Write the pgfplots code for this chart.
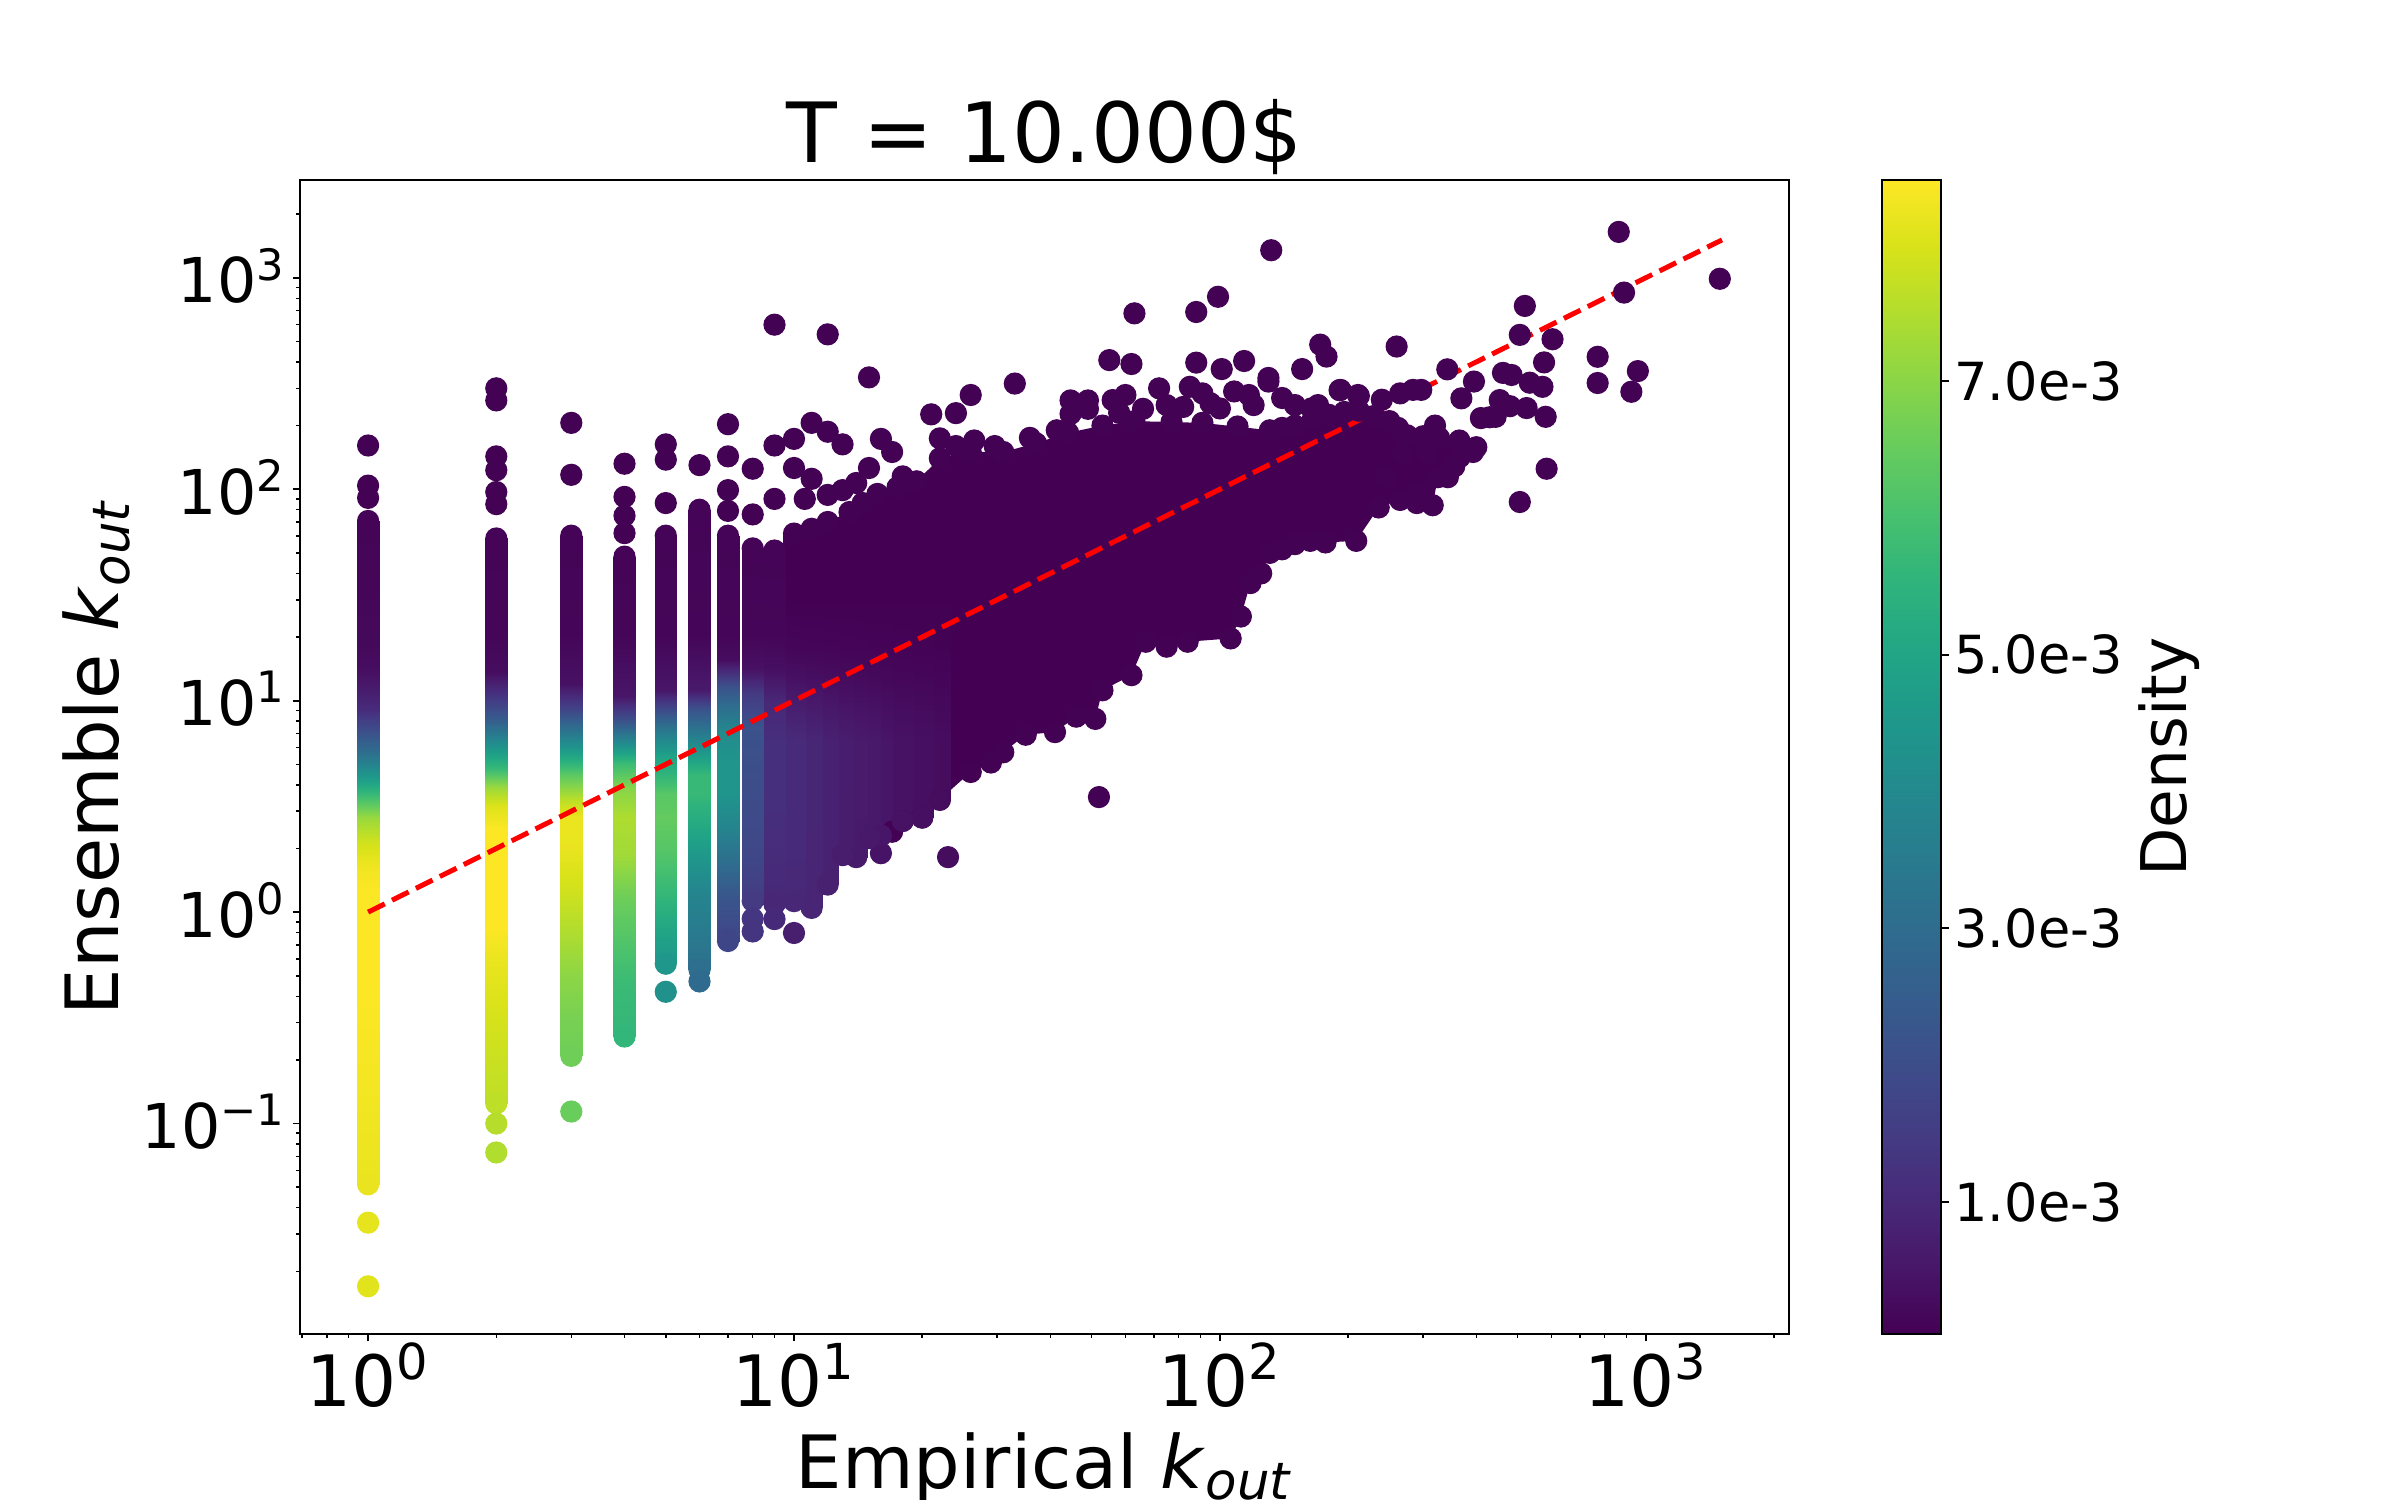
\documentclass[border=0pt]{standalone}
\usepackage{fontspec}
\setmainfont{DejaVu Sans}
\usepackage{pgfplots}
\pgfplotsset{compat=1.18}
\definecolor{vpurple}{HTML}{440154}
\pgfplotsset{
  dot/.style={scatter, only marks, mark=*, mark size=3.5pt, point meta=explicit,
    scatter/use mapped color={draw=mapped color, fill=mapped color}, mark options={line width=0.4pt}},
  band/.style={surf, shader=interp, mesh/cols=2, point meta=explicit},
}
\begin{document}
\begin{tikzpicture}
\useasboundingbox (0,0) rectangle (800pt,500pt);
\begin{axis}[
  at={(100pt,55.3pt)}, anchor=south west,
  scale only axis, width=496.3pt, height=384.7pt,
  xmode=log, ymode=log, log basis x=10, log basis y=10,
  xmin=0.692, xmax=2168, ymin=0.0101, ymax=2900,
  axis line style={line width=0.6pt, black},
  tick align=outside, tick pos=left,
  major tick length=2.4pt, minor tick length=1.3pt,
  every major tick/.style={line width=0.6pt, black},
  every minor tick/.style={line width=0.5pt, black},
  xtick={1,10,100,1000},
  xticklabels={10\textsuperscript{0},10\textsuperscript{1},10\textsuperscript{2},10\textsuperscript{3}},
  minor xtick={0.7,0.8,0.9,2,3,4,5,6,7,8,9,20,30,40,50,60,70,80,90,200,300,400,500,600,700,800,900,2000},
  ytick={0.1,1,10,100,1000},
  yticklabels={10\textsuperscript{\symbol{"2212}1},10\textsuperscript{0},10\textsuperscript{1},10\textsuperscript{2},10\textsuperscript{3}},
  minor ytick={0.02,0.03,0.04,0.05,0.06,0.07,0.08,0.09,0.2,0.3,0.4,0.5,0.6,0.7,0.8,0.9,2,3,4,5,6,7,8,9,20,30,40,50,60,70,80,90,200,300,400,500,600,700,800,900,2000},
  xticklabel style={font=\fontsize{23.6}{28}\selectfont, anchor=base, inner sep=0pt, yshift=-21.9pt},
  yticklabel style={font=\fontsize{20.6}{24}\selectfont, anchor=base east, inner sep=0pt, xshift=-2.2pt, yshift=-8.3pt},
  every axis title shift=0pt,
  title={T = 10.000\$},
  title style={font=\fontsize{27.7}{33}\selectfont, at={(axis description cs:0.5,1.0148)}, anchor=base},
  xlabel={Empirical \textit{k}\textsubscript{\textit{out}}},
  xlabel style={font=\fontsize{24.5}{29}\selectfont, at={(axis description cs:0.5,-0.1334)}, anchor=base},
  ylabel={Ensemble \textit{k}\textsubscript{\textit{out}}},
  ylabel style={font=\fontsize{24.5}{29}\selectfont, at={(axis description cs:-0.1221,0.5)}, anchor=base},
  colormap/viridis,
  point meta min=0.034, point meta max=8.47,
]
% dense cloud interior
\addplot[fill=vpurple, draw=none] coordinates {
(10,1.2) (11,1.1) (12,1.4) (13,1.9) (14,1.9) (15,2.3) (17,2.4) (18,2.7) (20,2.8) (22,3.4) (26,4.6) (29,5.1) (31,5.7) (35,6.9) (41,7.1) (46,8.4) (51,8.2) (53,11.2) (62,13.2) (67,19) (75,18) (84,19) (106,19.7) (112,25) (118,36) (125,40) (131,50) (150,55) (177,56) (209,57) (236,82) (265,89) (316,84) (325,114) (343,114) (366,142) (400,158) (327,175) (275,180) (250,210) (212,235) (180,225) (150,200) (131,190) (91,206) (63,210) (53,200) (44,185) (37,165) (31,150) (26,150) (22,140) (19.4,109) (15.7,95) (13.5,78) (11,65) (10,62)
};
% background points (low density)
\addplot[dot] table[meta=c, row sep=\\] {
x y c\\
17 2.4 0.04\\ 18 2.7 0.04\\ 20 2.8 0.04\\ 22 3.4 0.04\\ 26 4.6 0.04\\ 29 5.1 0.04\\ 31 5.7 0.04\\ 35 6.9 0.04\\ 41 7.1 0.04\\ 46 8.4 0.04\\
51 8.2 0.04\\ 53 11.2 0.04\\ 62 13.2 0.04\\ 67 19 0.04\\ 75 18 0.04\\ 84 19 0.04\\ 106 19.7 0.04\\ 112 25 0.04\\ 118 36 0.04\\ 125 40 0.04\\
131 50 0.04\\ 140 52 0.04\\ 150 55 0.04\\ 163 57 0.04\\ 177 56 0.04\\ 209 57 0.04\\ 236 82 0.04\\ 265 89 0.04\\ 290 86 0.04\\ 316 84 0.04\\
325 114 0.04\\ 343 114 0.04\\ 355 128 0.04\\ 366 142 0.04\\ 400 158 0.04\\ 365 170 0.04\\ 327 175 0.04\\ 300 178 0.04\\ 275 180 0.04\\ 262 195 0.04\\
250 210 0.04\\ 230 222 0.04\\ 212 235 0.04\\ 196 232 0.04\\ 180 225 0.04\\ 165 212 0.04\\ 150 200 0.04\\ 140 195 0.04\\ 131 190 0.04\\ 110 198 0.04\\
91 206 0.04\\ 77 208 0.04\\ 63 210 0.04\\ 53 200 0.04\\ 44 185 0.04\\ 37 165 0.04\\ 31 150 0.04\\ 26 150 0.04\\ 22 140 0.04\\ 19.4 109 0.04\\
17.5 102 0.04\\ 15.7 95 0.04\\ 14.5 86 0.04\\ 13.5 78 0.04\\ 12 70 0.04\\ 11 65 0.04\\
1 91 0.04\\ 1 104 0.04\\ 1 161 0.04\\ 2 85 0.04\\ 2 97 0.04\\ 2 123 0.04\\ 2 143 0.04\\ 2 263 0.04\\ 2 300 0.04\\ 3 117 0.04\\
3 206 0.04\\ 4 62 0.04\\ 4 75 0.04\\ 4 92 0.04\\ 4 132 0.04\\ 5 86 0.04\\ 5 138 0.04\\ 5 163 0.04\\ 6 130 0.04\\ 7 79 0.04\\
7 99 0.04\\ 7 143 0.04\\ 7 203 0.04\\ 8 76 0.04\\ 8 125 0.04\\ 9 90 0.04\\ 9 161 0.04\\ 9 600 0.04\\
10 126 0.04\\ 10 173 0.04\\ 10.6 90 0.04\\ 11 112 0.04\\ 11 206 0.04\\ 12 94 0.04\\ 12 187 0.04\\ 12 540 0.04\\ 13 99 0.04\\ 13 163 0.04\\
14 107 0.04\\ 15 126 0.04\\ 15 338 0.04\\ 16 173 0.04\\ 17 150 0.04\\ 18 115 0.04\\ 21 226 0.04\\ 22 174 0.04\\ 24 160 0.04\\ 24 229 0.04\\
26 279 0.04\\ 26.5 170 0.04\\ 29.6 160 0.04\\ 33 316 0.04\\ 35.8 175 0.04\\ 41.4 190 0.04\\ 44.6 227 0.04\\ 44.6 263 0.04\\ 49 263 0.04\\ 55 408 0.04\\
62 391 0.04\\ 63 679 0.04\\ 88 689 0.04\\ 99 813 0.04\\ 132 1350 0.04\\ 88 397 0.04\\ 101 370 0.04\\ 114 404 0.04\\ 130 336 0.04\\ 156 370 0.04\\
172 483 0.04\\ 178 424 0.04\\ 45 259 0.04\\ 49 240 0.04\\ 56 264 0.04\\ 60 279 0.04\\ 72 300 0.04\\ 85 305 0.04\\ 91 284 0.04\\ 100 241 0.04\\
117 279 0.04\\ 130 323 0.04\\ 164 241 0.04\\ 191 294 0.04\\ 211 279 0.04\\ 58 230 0.04\\ 66 240 0.04\\ 75 250 0.04\\ 82 245 0.04\\ 95 255 0.04\\
108 290 0.04\\ 120 250 0.04\\ 140 270 0.04\\ 150 250 0.04\\ 170 250 0.04\\
864 1648 0.04\\ 1492 989 0.04\\ 889 851 0.04\\ 520 736 0.04\\ 506 537 0.04\\ 604 512 0.04\\ 260 473 0.04\\ 771 423 0.04\\ 771 318 0.04\\ 958 362 0.04\\
925 289 0.04\\ 577 398 0.04\\ 342 369 0.04\\ 395 323 0.04\\ 462 355 0.04\\ 484 347 0.04\\ 534 319 0.04\\ 572 305 0.04\\ 525 242 0.04\\ 582 220 0.04\\
410 217 0.04\\ 444 220 0.04\\ 454 264 0.04\\ 369 269 0.04\\ 265 284 0.04\\ 284 295 0.04\\ 297 295 0.04\\ 585 125 0.04\\ 506 87 0.04\\ 290 96 0.04\\
246 114 0.04\\ 307 148 0.04\\ 269 148 0.04\\ 430 219 0.04\\ 480 247 0.04\\ 393 150 0.04\\ 212 276 0.04\\ 192 295 0.04\\ 240 265 0.04\\ 320 200 0.04\\
52 3.5 0.04\\ 23 1.82 0.30\\ 16 1.9 0.45\\
};
% gradient columns inside the cloud (drawn right to left)
\addplot[band] table[meta=c, row sep=\\] {
x y c\\
20.72 3.4 0.30\\ 23.36 3.4 0.30\\ 20.72 6.31 0.30\\ 23.36 6.31 0.30\\ 20.72 8.91 0.22\\ 23.36 8.91 0.22\\
20.72 12.6 0.13\\ 23.36 12.6 0.13\\ 20.72 17.8 0.06\\ 23.36 17.8 0.06\\ 20.72 28.2 0.04\\ 23.36 28.2 0.04\\
};
\addplot[band] table[meta=c, row sep=\\] {
x y c\\
18.836 2.8 0.36\\ 21.236 2.8 0.36\\ 18.836 6.31 0.36\\ 21.236 6.31 0.36\\ 18.836 8.91 0.27\\ 21.236 8.91 0.27\\
18.836 12.6 0.16\\ 21.236 12.6 0.16\\ 18.836 17.8 0.07\\ 21.236 17.8 0.07\\ 18.836 28.2 0.04\\ 21.236 28.2 0.04\\
};
\addplot[band] table[meta=c, row sep=\\] {
x y c\\
16.952 2.7 0.42\\ 19.112 2.7 0.42\\ 16.952 6.31 0.42\\ 19.112 6.31 0.42\\ 16.952 8.91 0.31\\ 19.112 8.91 0.31\\
16.952 12.6 0.18\\ 19.112 12.6 0.18\\ 16.952 17.8 0.08\\ 19.112 17.8 0.08\\ 16.952 28.2 0.04\\ 19.112 28.2 0.04\\
};
\addplot[band] table[meta=c, row sep=\\] {
x y c\\
15.069 2.3 0.50\\ 16.989 2.3 0.50\\ 15.069 6.31 0.50\\ 16.989 6.31 0.50\\ 15.069 8.91 0.36\\ 16.989 8.91 0.36\\
15.069 12.6 0.20\\ 16.989 12.6 0.20\\ 15.069 17.8 0.09\\ 16.989 17.8 0.09\\ 15.069 28.2 0.04\\ 16.989 28.2 0.04\\
};
\addplot[band] table[meta=c, row sep=\\] {
x y c\\
14.127 2.24 0.57\\ 15.927 2.24 0.57\\ 14.127 6.31 0.58\\ 15.927 6.31 0.58\\ 14.127 8.91 0.42\\ 15.927 8.91 0.42\\
14.127 12.6 0.23\\ 15.927 12.6 0.23\\ 14.127 17.8 0.09\\ 15.927 17.8 0.09\\ 14.127 28.2 0.04\\ 15.927 28.2 0.04\\
};
\addplot[band] table[meta=c, row sep=\\] {
x y c\\
13.185 1.82 0.62\\ 14.865 1.82 0.62\\ 13.185 6.31 0.63\\ 14.865 6.31 0.63\\ 13.185 8.91 0.45\\ 14.865 8.91 0.45\\
13.185 12.6 0.25\\ 14.865 12.6 0.25\\ 13.185 17.8 0.10\\ 14.865 17.8 0.10\\ 13.185 28.2 0.04\\ 14.865 28.2 0.04\\
};
\addplot[band] table[meta=c, row sep=\\] {
x y c\\
12.243 1.86 0.68\\ 13.803 1.86 0.68\\ 12.243 6.31 0.70\\ 13.803 6.31 0.70\\ 12.243 8.91 0.50\\ 13.803 8.91 0.50\\
12.243 12.6 0.27\\ 13.803 12.6 0.27\\ 12.243 17.8 0.11\\ 13.803 17.8 0.11\\ 12.243 28.2 0.04\\ 13.803 28.2 0.04\\
};
\addplot[band] table[meta=c, row sep=\\] {
x y c\\
11.302 1.35 0.78\\ 12.742 1.35 0.78\\ 11.302 6.31 0.80\\ 12.742 6.31 0.80\\ 11.302 8.91 0.57\\ 12.742 8.91 0.57\\
11.302 12.6 0.31\\ 12.742 12.6 0.31\\ 11.302 17.8 0.12\\ 12.742 17.8 0.12\\ 11.302 28.2 0.04\\ 12.742 28.2 0.04\\
};
\addplot[band] table[meta=c, row sep=\\] {
x y c\\
10.36 1.047 0.88\\ 11.68 1.047 0.88\\ 10.36 6.31 0.93\\ 11.68 6.31 0.93\\ 10.36 8.91 0.66\\ 11.68 8.91 0.66\\
10.36 12.6 0.35\\ 11.68 12.6 0.35\\ 10.36 17.8 0.13\\ 11.68 17.8 0.13\\ 10.36 28.2 0.04\\ 11.68 28.2 0.04\\
};
\addplot[band] table[meta=c, row sep=\\] {
x y c\\
9.418 1.127 0.95\\ 10.618 1.127 0.95\\ 9.418 2.51 1.05\\ 10.618 2.51 1.05\\ 9.418 6.31 1.05\\ 10.618 6.31 1.05\\
9.418 8.91 0.75\\ 10.618 8.91 0.75\\ 9.418 12.6 0.39\\ 10.618 12.6 0.39\\ 9.418 17.8 0.14\\ 10.618 17.8 0.14\\
9.418 28.2 0.04\\ 10.618 28.2 0.04\\ 9.418 61.7 0.04\\ 10.618 61.7 0.04\\
};
\addplot[dot] table[meta=c, row sep=\\] {
x y c\\
22 3.4 0.30\\ 20 2.8 0.36\\ 18 2.7 0.42\\ 16 2.3 0.50\\ 15 2.24 0.57\\ 14 1.82 0.62\\ 13 1.86 0.68\\ 12 1.35 0.78\\ 11 1.047 0.88\\
10 1.127 0.95\\ 10 0.797 0.72\\ 10 61.7 0.04\\
};
% integer columns x = 9 ... 1
\addplot[band] table[meta=c, row sep=\\] {
x y c\\
8.4762 1.09 0.95\\ 9.5562 1.09 0.95\\ 8.4762 1.58 1.05\\ 9.5562 1.58 1.05\\ 8.4762 3.16 1.15\\ 9.5562 3.16 1.15\\
8.4762 6.31 1.15\\ 9.5562 6.31 1.15\\ 8.4762 10.0 0.95\\ 9.5562 10.0 0.95\\ 8.4762 14.1 0.35\\ 9.5562 14.1 0.35\\
8.4762 20.0 0.15\\ 9.5562 20.0 0.15\\ 8.4762 51.3 0.10\\ 9.5562 51.3 0.10\\
};
\addplot[band] table[meta=c, row sep=\\] {
x y c\\
7.5344 1.13 1.47\\ 8.4944 1.13 1.47\\ 7.5344 1.75 1.80\\ 8.4944 1.75 1.80\\ 7.5344 2.51 1.89\\ 8.4944 2.51 1.89\\
7.5344 5.20 2.05\\ 8.4944 5.20 2.05\\ 7.5344 7.48 2.14\\ 8.4944 7.48 2.14\\ 7.5344 10.7 1.47\\ 8.4944 10.7 1.47\\
7.5344 14.1 0.40\\ 8.4944 14.1 0.40\\ 7.5344 20.0 0.15\\ 8.4944 20.0 0.15\\ 7.5344 52.5 0.10\\ 8.4944 52.5 0.10\\
};
\addplot[band] table[meta=c, row sep=\\] {
x y c\\
6.5926 0.73 1.80\\ 7.4326 0.73 1.80\\ 6.5926 0.843 1.89\\ 7.4326 0.843 1.89\\ 6.5926 1.22 2.31\\ 7.4326 1.22 2.31\\
6.5926 1.75 3.07\\ 7.4326 1.75 3.07\\ 6.5926 2.51 3.83\\ 7.4326 2.51 3.83\\ 6.5926 3.62 4.42\\ 7.4326 3.62 4.42\\
6.5926 5.20 4.42\\ 7.4326 5.20 4.42\\ 6.5926 6.97 4.08\\ 7.4326 6.97 4.08\\ 6.5926 9.29 3.07\\ 7.4326 9.29 3.07\\
6.5926 11.56 2.14\\ 7.4326 11.56 2.14\\ 6.5926 15.5 0.30\\ 7.4326 15.5 0.30\\ 6.5926 20.0 0.15\\ 7.4326 20.0 0.15\\
6.5926 60.3 0.10\\ 7.4326 60.3 0.10\\
};
\addplot[band] table[meta=c, row sep=\\] {
x y c\\
5.6508 0.533 3.07\\ 6.3708 0.533 3.07\\ 5.6508 0.724 3.41\\ 6.3708 0.724 3.41\\ 5.6508 1.22 3.83\\ 6.3708 1.22 3.83\\
5.6508 1.75 4.42\\ 6.3708 1.75 4.42\\ 5.6508 2.51 5.10\\ 6.3708 2.51 5.10\\ 5.6508 3.63 5.69\\ 6.3708 3.63 5.69\\
5.6508 4.47 5.69\\ 6.3708 4.47 5.69\\ 5.6508 6.03 4.25\\ 6.3708 6.03 4.25\\ 5.6508 7.59 3.07\\ 6.3708 7.59 3.07\\
5.6508 9.18 2.14\\ 6.3708 9.18 2.14\\ 5.6508 11.2 0.60\\ 6.3708 11.2 0.60\\ 5.6508 20.0 0.15\\ 6.3708 20.0 0.15\\
5.6508 80.0 0.10\\ 6.3708 80.0 0.10\\
};
\addplot[band] table[meta=c, row sep=\\] {
x y c\\
4.709 0.570 4.50\\ 5.309 0.570 4.50\\ 4.709 0.741 4.84\\ 5.309 0.741 4.84\\ 4.709 1.18 5.60\\ 5.309 1.18 5.60\\
4.709 1.87 6.19\\ 5.309 1.87 6.19\\ 4.709 2.79 6.45\\ 5.309 2.79 6.45\\ 4.709 3.63 6.28\\ 5.309 3.63 6.28\\
4.709 5.41 4.93\\ 5.309 5.41 4.93\\ 4.709 7.05 3.58\\ 5.309 7.05 3.58\\ 4.709 9.18 1.89\\ 5.309 9.18 1.89\\
4.709 11.2 0.50\\ 5.309 11.2 0.50\\ 4.709 20.0 0.15\\ 5.309 20.0 0.15\\ 4.709 60.3 0.10\\ 5.309 60.3 0.10\\
};
\addplot[band] table[meta=c, row sep=\\] {
x y c\\
3.7672 0.258 5.60\\ 4.2472 0.258 5.60\\ 3.7672 0.468 5.77\\ 4.2472 0.468 5.77\\ 3.7672 0.741 6.19\\ 4.2472 0.741 6.19\\
3.7672 1.18 6.61\\ 4.2472 1.18 6.61\\ 3.7672 1.87 7.29\\ 4.2472 1.87 7.29\\ 3.7672 2.79 7.46\\ 4.2472 2.79 7.46\\
3.7672 3.88 6.95\\ 4.2472 3.88 6.95\\ 3.7672 5.06 5.77\\ 4.2472 5.06 5.77\\ 3.7672 6.17 4.25\\ 4.2472 6.17 4.25\\
3.7672 8.04 2.14\\ 4.2472 8.04 2.14\\ 3.7672 10.5 0.50\\ 4.2472 10.5 0.50\\ 3.7672 20.0 0.15\\ 4.2472 20.0 0.15\\
3.7672 48.0 0.10\\ 4.2472 48.0 0.10\\
};
\addplot[band] table[meta=c, row sep=\\] {
x y c\\
2.8254 0.209 6.61\\ 3.1854 0.209 6.61\\ 2.8254 0.316 6.75\\ 3.1854 0.316 6.75\\ 2.8254 0.501 7.03\\ 3.1854 0.501 7.03\\
2.8254 0.794 7.46\\ 3.1854 0.794 7.46\\ 2.8254 1.26 7.88\\ 3.1854 1.26 7.88\\ 2.8254 2.0 8.20\\ 3.1854 2.0 8.20\\
2.8254 2.82 8.22\\ 3.1854 2.82 8.22\\ 2.8254 3.39 7.63\\ 3.1854 3.39 7.63\\ 2.8254 4.44 6.36\\ 3.1854 4.44 6.36\\
2.8254 5.41 5.10\\ 3.1854 5.41 5.10\\ 2.8254 7.05 3.41\\ 3.1854 7.05 3.41\\ 2.8254 9.18 1.72\\ 3.1854 9.18 1.72\\
2.8254 12.0 0.40\\ 3.1854 12.0 0.40\\ 2.8254 20.0 0.15\\ 3.1854 20.0 0.15\\ 2.8254 60.3 0.10\\ 3.1854 60.3 0.10\\
};
\addplot[band] table[meta=c, row sep=\\] {
x y c\\
1.8836 0.1245 7.65\\ 2.1236 0.1245 7.65\\ 1.8836 0.316 7.95\\ 2.1236 0.316 7.95\\ 1.8836 0.608 8.22\\ 2.1236 0.608 8.22\\
1.8836 0.851 8.47\\ 2.1236 0.851 8.47\\ 1.8836 2.45 8.47\\ 2.1236 2.45 8.47\\ 1.8836 3.18 8.05\\ 2.1236 3.18 8.05\\
1.8836 3.89 7.20\\ 2.1236 3.89 7.20\\ 1.8836 4.73 5.77\\ 2.1236 4.73 5.77\\ 1.8836 6.17 4.25\\ 2.1236 6.17 4.25\\
1.8836 8.04 2.56\\ 2.1236 8.04 2.56\\ 1.8836 10.5 1.30\\ 2.1236 10.5 1.30\\ 1.8836 13.6 0.30\\ 2.1236 13.6 0.30\\
1.8836 20.0 0.15\\ 2.1236 20.0 0.15\\ 1.8836 58.5 0.10\\ 2.1236 58.5 0.10\\
};
\addplot[band] table[meta=c, row sep=\\] {
x y c\\
0.9418 0.0516 8.20\\ 1.0618 0.0516 8.20\\ 0.9418 0.158 8.35\\ 1.0618 0.158 8.35\\ 0.9418 0.50 8.47\\ 1.0618 0.50 8.47\\
0.9418 1.26 8.45\\ 1.0618 1.26 8.45\\ 0.9418 1.64 8.30\\ 1.0618 1.64 8.30\\ 0.9418 2.14 7.88\\ 1.0618 2.14 7.88\\
0.9418 2.79 7.20\\ 1.0618 2.79 7.20\\ 0.9418 3.40 6.11\\ 1.0618 3.40 6.11\\ 0.9418 4.01 5.10\\ 1.0618 4.01 5.10\\
0.9418 4.73 4.08\\ 1.0618 4.73 4.08\\ 0.9418 5.77 2.99\\ 1.0618 5.77 2.99\\ 0.9418 7.05 2.14\\ 1.0618 7.05 2.14\\
0.9418 9.18 1.05\\ 1.0618 9.18 1.05\\ 0.9418 12.0 0.55\\ 1.0618 12.0 0.55\\ 0.9418 14.6 0.30\\ 1.0618 14.6 0.30\\
0.9418 17.8 0.22\\ 1.0618 17.8 0.22\\ 0.9418 31.6 0.15\\ 1.0618 31.6 0.15\\ 0.9418 70.8 0.10\\ 1.0618 70.8 0.10\\
};
% column end caps and isolated points
\addplot[dot] table[meta=c, row sep=\\] {
x y c\\
9 1.09 0.95\\ 9 51.3 0.10\\ 9 0.927 1.00\\
8 1.13 1.47\\ 8 52.5 0.10\\ 8 0.93 1.35\\ 8 0.81 1.30\\
7 0.73 1.80\\ 7 60.3 0.10\\
6 0.533 3.07\\ 6 80 0.10\\ 6 0.47 2.95\\
5 0.57 4.50\\ 5 60.3 0.10\\ 5 0.42 4.30\\
4 0.258 5.60\\ 4 48 0.10\\
3 0.209 6.61\\ 3 60.3 0.10\\ 3 0.114 6.55\\
2 0.1245 7.65\\ 2 58.5 0.10\\ 2 0.10 7.55\\ 2 0.073 7.50\\
1 0.0516 8.20\\ 1 70.8 0.10\\ 1 0.034 8.15\\ 1 0.017 8.10\\
};
% y = x reference line
\addplot[color=red, line width=1.67pt, dash pattern=on 6.2pt off 2.7pt] coordinates {(1,1) (1510,1510)};
\end{axis}
% colour bar (density scale)
\begin{axis}[
  at={(627.3pt,55.3pt)}, anchor=south west,
  scale only axis, width=19.7pt, height=384.7pt,
  xmin=0, xmax=1, ymin=0.034, ymax=8.47,
  xtick=\empty,
  ytick={1,3,5,7}, yticklabels={1.0e-3,3.0e-3,5.0e-3,7.0e-3},
  ytick pos=right, yticklabel pos=right, tick align=outside, major tick length=2.5pt,
  every major tick/.style={line width=0.6pt, black},
  axis line style={line width=0.6pt, black},
  axis on top,
  yticklabel style={font=\fontsize{17.5}{21}\selectfont, anchor=west, inner sep=0pt, xshift=1.8pt},
  ylabel={Density},
  every axis y label/.style={at={(axis description cs:5.15,0.5)}, rotate=90, anchor=base, font=\fontsize{21}{25}\selectfont},
  colormap/viridis, point meta min=0.034, point meta max=8.47,
]
\addplot[band] table[meta=c, row sep=\\] {
x y c\\
0 0.034 0.034\\ 1 0.034 0.034\\ 0 0.5 0.5\\ 1 0.5 0.5\\ 0 1 1\\ 1 1 1\\ 0 1.5 1.5\\ 1 1.5 1.5\\
0 2 2\\ 1 2 2\\ 0 2.5 2.5\\ 1 2.5 2.5\\ 0 3 3\\ 1 3 3\\ 0 3.5 3.5\\ 1 3.5 3.5\\
0 4 4\\ 1 4 4\\ 0 4.5 4.5\\ 1 4.5 4.5\\ 0 5 5\\ 1 5 5\\ 0 5.5 5.5\\ 1 5.5 5.5\\
0 6 6\\ 1 6 6\\ 0 6.5 6.5\\ 1 6.5 6.5\\ 0 7 7\\ 1 7 7\\ 0 7.5 7.5\\ 1 7.5 7.5\\
0 8 8\\ 1 8 8\\ 0 8.47 8.47\\ 1 8.47 8.47\\
};
\end{axis}
\end{tikzpicture}
\end{document}
